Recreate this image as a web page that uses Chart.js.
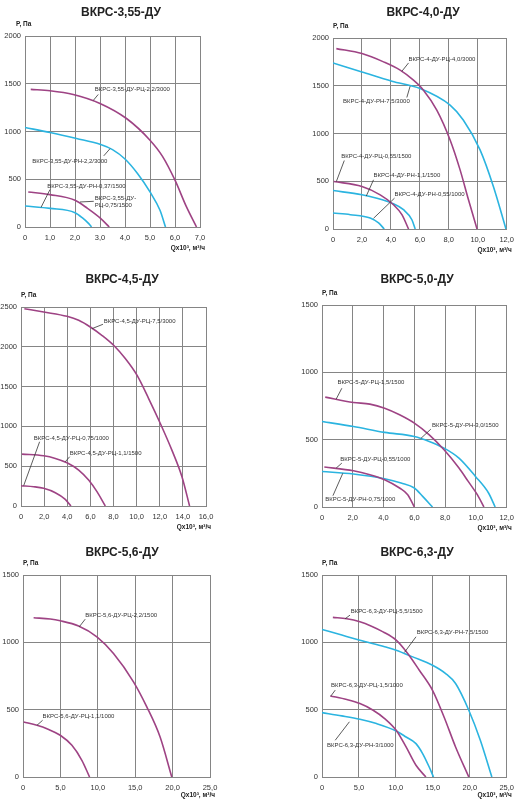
<!DOCTYPE html>
<html lang="ru">
<head>
<meta charset="utf-8">
<title>ВКРС-ДУ</title>
<script src="https://cdn.jsdelivr.net/npm/chart.js@4.4.1/dist/chart.umd.min.js"></script>
<style>
  html, body { margin: 0; padding: 0; background: #fff; width: 520px; height: 800px; overflow: hidden; }
  .celda { position: absolute; width: 260px; height: 275px; }
</style>
</head>
<body>
<div class="celda" style="left:0;top:0"><canvas id="g1"></canvas></div>
<div class="celda" style="left:260px;top:0"><canvas id="g2"></canvas></div>
<div class="celda" style="left:0;top:260px"><canvas id="g3"></canvas></div>
<div class="celda" style="left:260px;top:260px"><canvas id="g4"></canvas></div>
<div class="celda" style="left:0;top:525px"><canvas id="g5"></canvas></div>
<div class="celda" style="left:260px;top:525px"><canvas id="g6"></canvas></div>
<script>
// Curvas Q (x10^3 м3/ч), P (Па)
const vkrs355_rc22 = [[0.23,1441],[1.0,1427],[1.93,1388],[3.0,1294],[4.06,1136],[5.0,909],[5.5,740],[6.0,490],[6.46,210],[6.86,0]];
const vkrs355_rn22 = [[0,1042],[1.0,990],[2.06,927],[3.0,866],[3.5,810],[4.0,712],[4.5,560],[5.0,367],[5.4,175],[5.62,0]];
const vkrs355_rc075 = [[0.13,367],[1.0,339],[2.0,280],[2.5,195],[3.0,95],[3.37,0]];
const vkrs355_rn037 = [[0,220],[1.0,195],[2.0,150],[2.3,95],[2.55,35],[2.66,0]];

const vkrs40_rc40 = [[0.23,1889],[2.0,1837],[3.49,1750],[4.64,1663],[5.56,1558],[6.25,1454],[7.17,1245],[8.09,932],[8.78,619],[9.36,306],[9.95,0]];
const vkrs40_rn75 = [[0,1739],[2.0,1645],[4.07,1548],[6.02,1471],[8.09,1297],[9.0,1141],[10.16,828],[11.08,445],[11.95,0]];
const vkrs40_rc055 = [[0.05,497],[2.0,445],[3.26,358],[4.18,254],[4.76,150],[5.22,0]];
const vkrs40_rn11 = [[0,403],[2.0,358],[3.03,323],[4.07,271],[4.87,202],[5.45,97],[5.68,0]];
const vkrs40_rn055 = [[0,167],[1.2,150],[2.57,115],[3.15,63],[3.54,0]];

const vkrs45_rc75 = [[0.29,2479],[1.96,2437],[3.98,2383],[4.99,2333],[5.99,2249],[6.99,2145],[8.01,2019],[9.02,1852],[10.03,1643],[11.04,1350],[12.05,1037],[13.05,702],[13.92,368],[14.58,0]];
const vkrs45_rc11 = [[0.09,652],[1.96,631],[2.97,598],[3.98,543],[4.99,452],[5.85,326],[6.57,180],[7.29,0]];
const vkrs45_rc075 = [[0,255],[1.1,242],[1.96,222],[2.97,167],[3.83,84],[4.32,0]];

const vkrs50_rc15 = [[0.21,816],[2.04,776],[3.11,764],[4.07,734],[5.04,685],[6.0,623],[6.97,536],[7.93,425],[8.9,289],[9.5,190],[10.1,90],[10.52,0]];
const vkrs50_rn30 = [[0,635],[2.04,598],[4.07,554],[6.0,524],[6.97,487],[7.93,437],[8.9,363],[9.97,227],[10.82,104],[11.25,0]];
const vkrs50_rc055 = [[0.15,297],[2.04,269],[3.11,240],[4.07,203],[5.04,141],[5.57,91],[6.0,0]];
const vkrs50_rn075 = [[0,264],[2.04,245],[4.07,210],[5.14,178],[6.0,141],[6.54,79],[7.18,0]];

const vkrs56_rc22 = [[1.42,1182],[3.65,1173],[4.98,1160],[7.43,1121],[9.88,1041],[12.1,917],[14.77,707],[16.55,521],[18.33,297],[19.89,0]];
const vkrs56_rc11 = [[0.09,409],[1.87,384],[3.2,359],[4.98,310],[6.54,235],[7.87,124],[8.9,0]];

const vkrs63_rc55 = [[1.47,1185],[3.35,1175],[5.13,1153],[6.7,1120],[8.26,1078],[10.04,1016],[11.6,917],[13.17,793],[14.96,644],[16.52,446],[18.08,223],[19.87,0]];
const vkrs63_rn75 = [[0,1096],[2.68,1054],[5.13,1016],[8.48,967],[10.04,942],[12.28,892],[14.96,830],[16.74,768],[18.08,694],[19.87,496],[21.43,273],[22.99,0]];
const vkrs63_rc15 = [[1.12,602],[3.35,575],[5.13,545],[6.92,496],[8.48,434],[10.04,347],[11.38,223],[12.72,87],[14.06,0]];
const vkrs63_rn3 = [[0,478],[2.68,454],[5.13,429],[7.37,397],[10.04,342],[11.38,297],[12.72,248],[13.62,174],[14.51,74],[15.09,0]];

const COLOR_RC = "#9e4384";
const COLOR_RN = "#2bb4e0";
const FUENTE = "'Liberation Sans', Arial, sans-serif";
const COLOR_REJILLA = "#858585";

Chart.defaults.font.family = FUENTE;

// Rótulos: texto en coordenadas de datos y línea guía (desde, hasta)
const paneles = [
  { id: "g1", celda: [0, 0], area: [25, 200, 36, 227], yAncho: 25, xMax: 7, xPaso: 1, yMax: 2000,
    titulo: "ВКРС-3,55-ДУ", tituloXY: [121, 13], pDx: -9, qDy: 21,
    series: [[vkrs355_rc22, COLOR_RC], [vkrs355_rn22, COLOR_RN], [vkrs355_rc075, COLOR_RC], [vkrs355_rn037, COLOR_RN]],
    rotulos: [
      { t: ["ВКРС-3,55-ДУ-РЦ-2,2/3000"], x: 2.79, y: 1441, guia: [2.93, 1388, 2.73, 1325] },
      { t: ["ВКРС-3,55-ДУ-РН-2,2/3000"], x: 0.29, y: 692, guia: [3.15, 745, 3.4, 820] },
      { t: ["ВКРС-3,55-ДУ-РН-0,37/1500"], x: 0.89, y: 427, guia: [1.0, 392, 0.64, 205] },
      { t: ["ВКРС-3,55-ДУ-", "РЦ-0,75/1500"], x: 2.79, y: 304, guia: [2.75, 269, 2.2, 262] }
    ] },
  { id: "g2", celda: [260, 0], area: [333, 507, 38, 229], yAncho: 25, xMax: 12, xPaso: 2, yMax: 2000,
    titulo: "ВКРС-4,0-ДУ", tituloXY: [163, 13], pDx: 0, qDy: 21,
    series: [[vkrs40_rc40, COLOR_RC], [vkrs40_rn75, COLOR_RN], [vkrs40_rc055, COLOR_RC], [vkrs40_rn11, COLOR_RN], [vkrs40_rn055, COLOR_RN]],
    rotulos: [
      { t: ["ВКРС-4-ДУ-РЦ-4,0/3000"], x: 5.22, y: 1774, guia: [5.22, 1739, 4.76, 1652] },
      { t: ["ВКРС-4-ДУ-РН-7,5/3000"], x: 0.69, y: 1339, guia: [5.1, 1377, 5.33, 1496] },
      { t: ["ВКРС-4-ДУ-РЦ-0,55/1500"], x: 0.57, y: 758, guia: [0.78, 717, 0.23, 497] },
      { t: ["ВКРС-4-ДУ-РН-1,1/1500"], x: 2.8, y: 557, guia: [2.8, 515, 2.3, 345] },
      { t: ["ВКРС-4-ДУ-РН-0,55/1000"], x: 4.25, y: 358, guia: [4.25, 323, 2.8, 112] }
    ] },
  { id: "g3", celda: [0, 260], area: [21, 206, 307, 506], yAncho: 21, xMax: 16, xPaso: 2, yMax: 2500,
    titulo: "ВКРС-4,5-ДУ", tituloXY: [122, 20], pDx: 0, qDy: 21,
    series: [[vkrs45_rc75, COLOR_RC], [vkrs45_rc11, COLOR_RC], [vkrs45_rc075, COLOR_RC]],
    rotulos: [
      { t: ["ВКРС-4,5-ДУ-РЦ-7,5/3000"], x: 7.15, y: 2320, guia: [7.09, 2283, 6.14, 2228] },
      { t: ["ВКРС-4,5-ДУ-РЦ-0,75/1000"], x: 1.1, y: 849, guia: [1.61, 807, 0.23, 255] },
      { t: ["ВКРС-4,5-ДУ-РЦ-1,1/1500"], x: 4.21, y: 660, guia: [4.21, 619, 3.83, 556] }
    ] },
  { id: "g4", celda: [260, 260], area: [322, 508, 305, 507], yAncho: 25, xMax: 12, xPaso: 2, yMax: 1500,
    titulo: "ВКРС-5,0-ДУ", tituloXY: [157, 20], pDx: 0, qDy: 21,
    series: [[vkrs50_rc15, COLOR_RC], [vkrs50_rn30, COLOR_RN], [vkrs50_rc055, COLOR_RC], [vkrs50_rn075, COLOR_RN]],
    rotulos: [
      { t: ["ВКРС-5-ДУ-РЦ-1,5/1500"], x: 1.01, y: 924, guia: [1.29, 882, 0.92, 801] },
      { t: ["ВКРС-5-ДУ-РН-3,0/1500"], x: 7.14, y: 606, guia: [7.07, 578, 6.43, 510] },
      { t: ["ВКРС-5-ДУ-РЦ-0,55/1000"], x: 1.18, y: 356, guia: [1.29, 326, 0.92, 289] },
      { t: ["ВКРС-5-ДУ-РН-0,75/1000"], x: 0.21, y: 59, guia: [0.71, 84, 1.35, 250] }
    ] },
  { id: "g5", celda: [0, 525], area: [23, 210, 575, 777], yAncho: 23, xMax: 25, xPaso: 5, yMax: 1500,
    titulo: "ВКРС-5,6-ДУ", tituloXY: [122, 28], pDx: 0, qDy: 18,
    series: [[vkrs56_rc22, COLOR_RC], [vkrs56_rc11, COLOR_RC]],
    rotulos: [
      { t: ["ВКРС-5,6-ДУ-РЦ-2,2/1500"], x: 8.32, y: 1202, guia: [8.32, 1172, 7.52, 1115] },
      { t: ["ВКРС-5,6-ДУ-РЦ-1,1/1000"], x: 2.62, y: 454, guia: [2.62, 421, 1.87, 384] }
    ] },
  { id: "g6", celda: [260, 525], area: [322, 508, 575, 777], yAncho: 25, xMax: 25, xPaso: 5, yMax: 1500,
    titulo: "ВКРС-6,3-ДУ", tituloXY: [157, 28], pDx: 0, qDy: 18,
    series: [[vkrs63_rc55, COLOR_RC], [vkrs63_rn75, COLOR_RN], [vkrs63_rc15, COLOR_RC], [vkrs63_rn3, COLOR_RN]],
    rotulos: [
      { t: ["ВКРС-6,3-ДУ-РЦ-5,5/1500"], x: 3.88, y: 1232, guia: [3.79, 1202, 3.13, 1175] },
      { t: ["ВКРС-6,3-ДУ-РН-7,5/1500"], x: 12.81, y: 1071, guia: [12.72, 1041, 11.16, 925] },
      { t: ["ВКРС-6,3-ДУ-РЦ-1,5/1000"], x: 1.21, y: 677, guia: [1.79, 645, 1.21, 602] },
      { t: ["ВКРС-6,3-ДУ-РН-3/1000"], x: 0.67, y: 235, guia: [1.79, 273, 3.71, 410] }
    ] }
];

// Plugin para títulos, nombres de ejes y rótulos de curvas
const textos = {
  id: "textos",
  afterDraw(chart, args, op) {
    const ctx = chart.ctx, a = chart.chartArea;
    const sx = chart.scales.x, sy = chart.scales.y;
    ctx.save();
    ctx.fillStyle = "#222";
    ctx.textBaseline = "middle";
    ctx.textAlign = "center";
    ctx.font = "bold 12px " + FUENTE;
    ctx.fillText(op.titulo, op.tituloXY[0], op.tituloXY[1]);

    ctx.font = "bold 6.5px " + FUENTE;
    ctx.textAlign = "left";
    ctx.fillText("P, Па", a.left + op.pDx, a.top - 12);
    ctx.textAlign = "right";
    ctx.fillText("Qx10³, м³/ч", a.right + 5, a.bottom + op.qDy);

    ctx.font = "6px " + FUENTE;
    ctx.textAlign = "left";
    ctx.fillStyle = "#333";
    ctx.strokeStyle = "#333";
    ctx.lineWidth = 0.8;
    op.rotulos.forEach(r => {
      const g = r.guia;
      ctx.beginPath();
      ctx.moveTo(sx.getPixelForValue(g[0]), sy.getPixelForValue(g[1]));
      ctx.lineTo(sx.getPixelForValue(g[2]), sy.getPixelForValue(g[3]));
      ctx.stroke();
      const px = sx.getPixelForValue(r.x), py = sy.getPixelForValue(r.y);
      r.t.forEach((linea, i) => ctx.fillText(linea, px, py + i * 7));
    });
    ctx.restore();
  }
};

function etiquetaX(v) {
  return v === 0 ? "0" : v.toFixed(1).replace(".", ",");
}

function crearGrafico(p) {
  const [cx, cy] = p.celda;
  const [L, R, T, B] = p.area;
  const xAlto = 20;
  const ejeComun = {
    grid: { color: COLOR_REJILLA, lineWidth: 1, drawTicks: false },
    border: { color: COLOR_REJILLA, width: 1 }
  };
  new Chart(document.getElementById(p.id), {
    type: "line",
    data: {
      datasets: p.series.map(s => ({
        data: s[0].map(q => ({ x: q[0], y: q[1] })),
        borderColor: s[1],
        borderWidth: 1.6,
        pointRadius: 0,
        tension: 0.4,
        cubicInterpolationMode: "monotone",
        fill: false
      }))
    },
    options: {
      responsive: true,
      maintainAspectRatio: false,
      animation: false,
      layout: {
        padding: { left: L - cx - p.yAncho, right: cx + 260 - R, top: T - cy, bottom: cy + 275 - B - xAlto }
      },
      plugins: {
        legend: { display: false },
        tooltip: { enabled: false },
        textos: { titulo: p.titulo, tituloXY: p.tituloXY, pDx: p.pDx, qDy: p.qDy, rotulos: p.rotulos }
      },
      scales: {
        x: Object.assign({}, ejeComun, {
          type: "linear", min: 0, max: p.xMax,
          afterFit: s => { s.height = xAlto; },
          ticks: { stepSize: p.xPaso, autoSkip: false, maxRotation: 0, padding: 6, color: "#333",
                   font: { size: 7.5 }, callback: etiquetaX }
        }),
        y: Object.assign({}, ejeComun, {
          type: "linear", min: 0, max: p.yMax,
          afterFit: s => { s.width = p.yAncho; },
          ticks: { stepSize: 500, padding: 4, color: "#333", font: { size: 7.5 }, callback: v => String(v) }
        })
      }
    },
    plugins: [textos]
  });
}

paneles.forEach(crearGrafico);
</script>
</body>
</html>
